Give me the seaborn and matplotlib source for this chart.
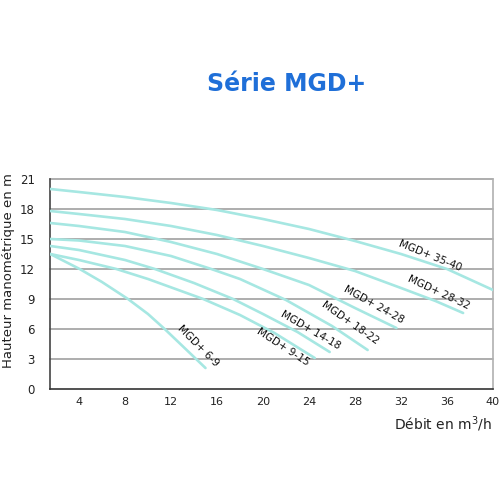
import matplotlib
matplotlib.use("Agg")
import matplotlib.pyplot as plt
import seaborn as sns
import pandas as pd

sns.set_theme(style="white")
plt.rcParams['font.family'] = ['DejaVu Sans']

# Curves (flow m3/h, head m)
x_35_40 = [1.5, 4, 8, 12, 16, 20, 24, 28, 32, 36, 40]
y_35_40 = [20.0, 19.7, 19.2, 18.6, 17.9, 17.0, 16.0, 14.8, 13.5, 12.0, 9.9]
x_28_32 = [1.5, 4, 8, 12, 16, 20, 24, 28, 32, 35, 37.4]
y_28_32 = [17.8, 17.5, 17.0, 16.3, 15.4, 14.3, 13.1, 11.8, 10.1, 8.8, 7.6]
x_24_28 = [1.5, 4, 8, 12, 16, 20, 24, 28, 31.6]
y_24_28 = [16.6, 16.3, 15.7, 14.7, 13.5, 12.0, 10.4, 8.1, 6.1]
x_18_22 = [1.5, 4, 8, 12, 15.5, 18, 22, 26, 29.1]
y_18_22 = [15.0, 14.85, 14.3, 13.3, 12.0, 11.0, 8.9, 6.3, 3.9]
x_14_18 = [1.5, 4, 8, 10.6, 14, 17.4, 20, 23, 25.8]
y_14_18 = [14.3, 13.9, 12.9, 12.0, 10.6, 9.0, 7.5, 5.7, 3.7]
x_9_15 = [1.5, 4, 7.25, 10, 14.8, 18, 21, 24.5]
y_9_15 = [13.5, 12.9, 12.0, 11.0, 9.0, 7.4, 5.6, 3.1]
x_6_9 = [1.5, 4.06, 6, 8.26, 10, 11.45, 13, 15]
y_6_9 = [13.5, 12.0, 10.7, 9.0, 7.5, 6.0, 4.3, 2.1]

series_names = ["MGD+ 35-40", "MGD+ 28-32", "MGD+ 24-28", "MGD+ 18-22",
                "MGD+ 14-18", "MGD+ 9-15", "MGD+ 6-9"]
series_x = [x_35_40, x_28_32, x_24_28, x_18_22, x_14_18, x_9_15, x_6_9]
series_y = [y_35_40, y_28_32, y_24_28, y_18_22, y_14_18, y_9_15, y_6_9]

# Label anchor positions (data coords) and angles
label_x = [34.5, 35.3, 29.6, 27.6, 24.1, 21.7, 14.4]
label_y = [13.3, 9.7, 8.4, 6.6, 5.9, 4.2, 4.3]
label_rot = [-22, -25, -29, -35, -30, -33, -45]

x_ticks = [4, 8, 12, 16, 20, 24, 28, 32, 36, 40]
y_ticks = [0, 3, 6, 9, 12, 15, 18, 21]

rows = []
for name, xs, ys in zip(series_names, series_x, series_y):
    for xv, yv in zip(xs, ys):
        rows.append({"serie": name, "debit": xv, "hauteur": yv})
df = pd.DataFrame(rows)

fig = plt.figure(figsize=(5, 5), dpi=100)
ax = fig.add_axes([0.10, 0.222, 0.886, 0.42])

for yv in y_ticks[1:]:
    ax.axhline(yv, color="#a0a0a0", lw=1.2, zorder=1, clip_on=False)

sns.lineplot(data=df, x="debit", y="hauteur", units="serie", estimator=None,
             color="#a6e7e2", lw=1.9, sort=False, ax=ax, zorder=3)

for name, lx, ly, rot in zip(series_names, label_x, label_y, label_rot):
    ax.text(lx, ly, name, rotation=rot, ha="center", va="center",
            fontsize=7.5, color="#111111", zorder=4, rotation_mode="anchor")

ax.set_xlim(1.48, 40)
ax.set_ylim(0, 21)
ax.set_xticks(x_ticks)
ax.set_yticks(y_ticks)
ax.set_xticklabels([str(v) for v in x_ticks], fontsize=8, color="#222222")
ax.set_yticklabels([str(v) for v in y_ticks], fontsize=8.5, color="#222222")
ax.tick_params(axis="x", direction="out", length=4, width=1, color="#444444", pad=2)
ax.tick_params(axis="y", direction="out", length=4, width=1, color="#444444", pad=7)
ax.set_xlabel("")
ax.set_ylabel("")

ax.spines["top"].set_visible(False)
ax.spines["right"].set_color("#b0b0b0")
ax.spines["right"].set_linewidth(1.2)
ax.spines["left"].set_color("#444444")
ax.spines["left"].set_linewidth(1.2)
ax.spines["bottom"].set_color("#333333")
ax.spines["bottom"].set_linewidth(1.2)

fig.text(0.574, 0.832, "Série MGD+", ha="center", va="center",
         fontsize=17, fontweight="bold", color="#1f6fd8")
fig.text(0.018, 0.458, "Hauteur manométrique en m", rotation=90,
         ha="center", va="center", fontsize=9.5, color="#222222")
fig.text(0.984, 0.152, "Débit en m$^3$/h", ha="right", va="center",
         fontsize=10, color="#222222")

fig.savefig("out.png", dpi=100, facecolor="white")
